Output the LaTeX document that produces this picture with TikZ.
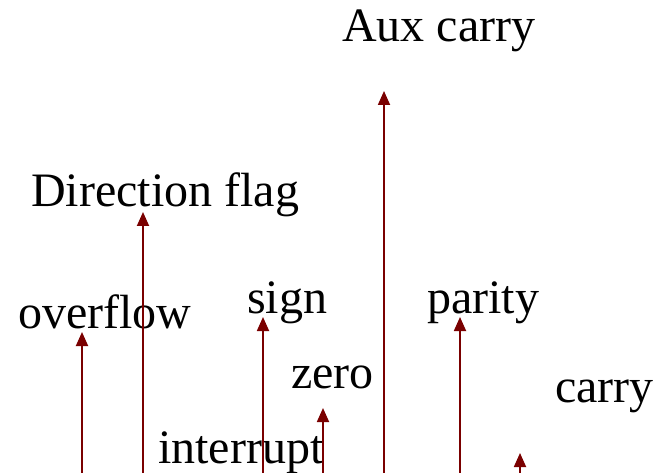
\documentclass[tikz,border=0pt]{standalone}
\usepackage{fontspec}
\setmainfont{Liberation Serif}
\usetikzlibrary{arrows.meta}
\definecolor{flagred}{HTML}{7A0000}
\tikzset{
  flaglabel/.style={anchor=base west, inner sep=0pt, font=\fontsize{48}{57}\selectfont},
  flagarrow/.style={draw=flagred, line width=1.8pt, -{Triangle[length=14pt,width=12pt]}, fill=flagred},
}
\begin{document}
\begin{tikzpicture}[x=1pt,y=-1pt]
  \useasboundingbox (0,0) rectangle (664,473);
  % flag labels
  \node[flaglabel] (aux)  at (342,42)  {Aux carry};
  \node[flaglabel] (dir)  at (31,207)  {Direction flag};
  \node[flaglabel] (ovf)  at (18,328)  {overflow};
  \node[flaglabel] (sgn)  at (247,313) {sign};
  \node[flaglabel] (zer)  at (291,388) {zero};
  \node[flaglabel] (intr) at (158,463) {interrupt};
  \node[flaglabel] (par)  at (427,313) {parity};
  \node[flaglabel] (cry)  at (555,402) {carry};
  % arrow feet at the lower edge and their heads
  \foreach \name/\xx/\yy in {aux/384/91, dir/143/212, ovf/82/332, sgn/263/317,
                             zer/323/408, par/460/317, cry/520/453} {
    \coordinate (\name-foot) at (\xx,480);
    \coordinate (\name-head) at (\xx,\yy);
  }
  \foreach \name in {aux,dir,ovf,sgn,zer,par,cry}
    \draw[flagarrow] (\name-foot) -- (\name-head);
\end{tikzpicture}
\end{document}
